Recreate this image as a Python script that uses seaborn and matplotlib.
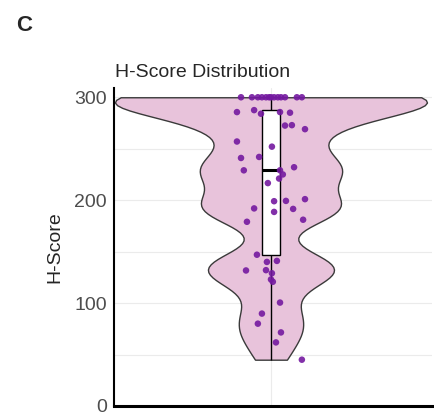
import numpy as np
import pandas as pd
import seaborn as sns
import matplotlib.pyplot as plt

# H-score values (several 300s overlap at the top)
h_score = [300, 300, 300, 300, 300, 300, 300, 300, 300, 300, 300, 300, 300,
           285.6, 287.5, 284, 285.6, 285, 272.5, 272.9, 269, 257, 252,
           241, 242, 229, 229, 232, 225, 221, 216.6,
           199, 199.3, 201, 192, 188.6, 191.5, 181, 179,
           147, 140, 141, 131.7, 132, 129, 123, 120.7,
           100.5, 89.8, 80, 71.5, 61.8, 45]
# horizontal jitter of each dot, as seen in the picture
jitter = [-0.096, -0.061, -0.042, -0.029, -0.006, 0.0, 0.010, 0.022, 0.045,
          0.083, 0.099, -0.016, 0.032,
          -0.109, -0.054, -0.032, 0.029, 0.061, 0.045, 0.067, 0.109, -0.109, 0.003,
          -0.096, -0.038, -0.087, 0.029, 0.074, 0.038, 0.026, -0.010,
          0.010, 0.048, 0.109, -0.054, 0.010, 0.071, 0.103, -0.077,
          -0.045, -0.013, 0.019, -0.080, -0.016, 0.003, 0.0, 0.006,
          0.029, -0.029, -0.042, 0.032, 0.016, 0.099]
y_ticks = [0, 100, 200, 300]

df = pd.DataFrame({'H-Score': h_score, 'jitter': jitter})

sns.set_style('white')
plt.rcParams['font.family'] = ['Liberation Sans', 'DejaVu Sans']

fig = plt.figure(figsize=(4.35, 4.16), dpi=100)
ax = fig.add_axes([114/435, 10/416, 318/435, 318/416])

sns.violinplot(data=df, y='H-Score', cut=0, width=1.0, inner=None,
               bw_method=0.185, color='#E8C3DB', linecolor='#3a3a3a',
               linewidth=1.0, saturation=1, ax=ax)
sns.boxplot(data=df, y='H-Score', width=0.056, showfliers=False, showcaps=False,
            boxprops=dict(facecolor='white', edgecolor='black', linewidth=1.0),
            whiskerprops=dict(color='black', linewidth=1.0),
            medianprops=dict(color='black', linewidth=2.2),
            ax=ax)
sns.scatterplot(data=df, x='jitter', y='H-Score', color='#7419A0', s=22,
                alpha=0.9, edgecolor='none', ax=ax, zorder=5)

ax.set_xlim(-0.503, 0.516)
ax.set_ylim(0, 309)
ax.set_yticks(y_ticks)
ax.set_yticks([50, 150, 250], minor=True)
ax.set_xticks([0])
ax.set_xticklabels([])
ax.set_xlabel('')
ax.set_ylabel('H-Score', fontsize=14, labelpad=8)
ax.tick_params(axis='y', labelsize=14, labelcolor='#4D4D4D', length=3, width=1, color='black', pad=2)
ax.tick_params(axis='x', length=0)
ax.grid(True, which='both', color='#EBEBEB', linewidth=0.8)
ax.set_axisbelow(True)
for s in ['top', 'right']:
    ax.spines[s].set_visible(False)
for s in ['left', 'bottom']:
    ax.spines[s].set_color('black')
    ax.spines[s].set_linewidth(1.5)
ax.spines['bottom'].set_linewidth(2.2)

fig.text(115/435, 1 - 77/416, 'H-Score Distribution', fontsize=14, va='baseline', ha='left')
fig.text(16/435, 1 - 31/416, 'C', fontsize=16, fontweight='bold', va='baseline', ha='left')

fig.savefig('out.png', dpi=100)
